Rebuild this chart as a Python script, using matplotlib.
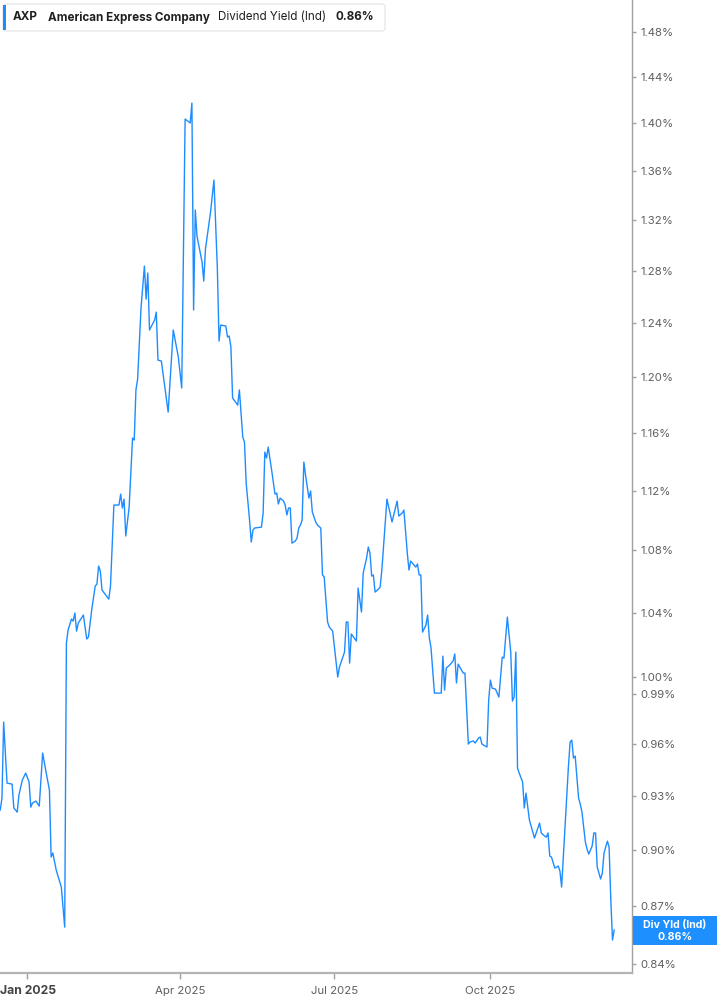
import pandas as pd
import matplotlib
matplotlib.use("Agg")
import matplotlib.pyplot as plt
import matplotlib.dates as mdates
import matplotlib.transforms as mtransforms
from matplotlib.patches import FancyBboxPatch, Rectangle
from matplotlib.ticker import FixedLocator, FixedFormatter, NullLocator

plt.rcParams["font.family"] = ["Inter", "DejaVu Sans"]

# --- data ---
ticker_sym = "AXP"
company = "American Express Company"
metric = "Dividend Yield (Ind)"
tag_title = "Div Yld (Ind)"

dates = [
    "2024-12-16", "2024-12-17", "2024-12-18", "2024-12-20", "2024-12-23", "2024-12-24", "2024-12-26", "2024-12-27", "2024-12-29", "2024-12-31",
    "2025-01-02", "2025-01-03", "2025-01-04", "2025-01-06", "2025-01-08", "2025-01-10", "2025-01-12", "2025-01-14", "2025-01-15", "2025-01-16",
    "2025-01-18", "2025-01-21", "2025-01-23", "2025-01-24", "2025-01-25", "2025-01-27", "2025-01-28", "2025-01-29", "2025-01-30", "2025-01-31",
    "2025-02-03", "2025-02-05", "2025-02-06", "2025-02-08", "2025-02-10", "2025-02-11", "2025-02-12", "2025-02-13", "2025-02-14", "2025-02-18",
    "2025-02-19", "2025-02-21", "2025-02-24", "2025-02-25", "2025-02-26", "2025-02-27", "2025-02-28", "2025-03-02", "2025-03-04", "2025-03-05",
    "2025-03-06", "2025-03-07", "2025-03-09", "2025-03-11", "2025-03-12", "2025-03-13", "2025-03-14", "2025-03-17", "2025-03-18", "2025-03-19",
    "2025-03-21", "2025-03-25", "2025-03-28", "2025-03-31", "2025-04-02", "2025-04-04", "2025-04-07", "2025-04-08", "2025-04-09", "2025-04-10",
    "2025-04-11", "2025-04-14", "2025-04-15", "2025-04-16", "2025-04-19", "2025-04-21", "2025-04-23", "2025-04-24", "2025-04-25", "2025-04-28",
    "2025-04-29", "2025-04-30", "2025-05-01", "2025-05-02", "2025-05-05", "2025-05-06", "2025-05-08", "2025-05-09", "2025-05-10", "2025-05-12",
    "2025-05-13", "2025-05-14", "2025-05-15", "2025-05-19", "2025-05-20", "2025-05-21", "2025-05-22", "2025-05-23", "2025-05-25", "2025-05-27",
    "2025-05-28", "2025-05-29", "2025-05-30", "2025-06-01", "2025-06-02", "2025-06-03", "2025-06-04", "2025-06-05", "2025-06-06", "2025-06-08",
    "2025-06-09", "2025-06-10", "2025-06-11", "2025-06-12", "2025-06-13", "2025-06-14", "2025-06-16", "2025-06-17", "2025-06-18", "2025-06-20",
    "2025-06-21", "2025-06-23", "2025-06-24", "2025-06-25", "2025-06-27", "2025-06-28", "2025-06-30", "2025-07-03", "2025-07-04", "2025-07-07",
    "2025-07-08", "2025-07-09", "2025-07-10", "2025-07-11", "2025-07-14", "2025-07-15", "2025-07-17", "2025-07-18", "2025-07-20", "2025-07-21",
    "2025-07-22", "2025-07-23", "2025-07-24", "2025-07-25", "2025-07-27", "2025-07-28", "2025-07-29", "2025-08-01", "2025-08-04", "2025-08-07",
    "2025-08-08", "2025-08-10", "2025-08-11", "2025-08-13", "2025-08-14", "2025-08-15", "2025-08-18", "2025-08-19", "2025-08-20", "2025-08-21",
    "2025-08-22", "2025-08-24", "2025-08-25", "2025-08-26", "2025-08-27", "2025-08-29", "2025-08-31", "2025-09-02", "2025-09-03", "2025-09-04",
    "2025-09-05", "2025-09-07", "2025-09-09", "2025-09-10", "2025-09-11", "2025-09-12", "2025-09-14", "2025-09-15", "2025-09-16", "2025-09-18",
    "2025-09-19", "2025-09-21", "2025-09-22", "2025-09-24", "2025-09-25", "2025-09-26", "2025-09-28", "2025-09-29", "2025-09-30", "2025-10-01",
    "2025-10-02", "2025-10-04", "2025-10-06", "2025-10-08", "2025-10-09", "2025-10-11", "2025-10-13", "2025-10-14", "2025-10-15", "2025-10-16",
    "2025-10-17", "2025-10-18", "2025-10-20", "2025-10-21", "2025-10-22", "2025-10-24", "2025-10-27", "2025-10-28", "2025-10-30", "2025-10-31",
    "2025-11-02", "2025-11-03", "2025-11-04", "2025-11-05", "2025-11-06", "2025-11-08", "2025-11-09", "2025-11-10", "2025-11-11", "2025-11-12",
    "2025-11-14", "2025-11-15", "2025-11-16", "2025-11-17", "2025-11-18", "2025-11-19", "2025-11-20", "2025-11-22", "2025-11-23", "2025-11-24",
    "2025-11-26", "2025-11-27", "2025-11-28", "2025-11-30", "2025-12-01", "2025-12-02", "2025-12-03", "2025-12-05", "2025-12-06", "2025-12-07",
    "2025-12-09", "2025-12-10", "2025-12-11", "2025-12-12", "2025-12-13",
]

# dividend yield, in percent
yield_pct = [
    0.9224, 0.9291, 0.9730, 0.9376, 0.9370, 0.9235, 0.9212, 0.9308, 0.9393, 0.9433,
    0.9382, 0.9240, 0.9263, 0.9274, 0.9246, 0.9549, 0.9439, 0.9336, 0.8964, 0.8986,
    0.8893, 0.8802, 0.8590, 1.0209, 1.0290, 1.0359, 1.0346, 1.0397, 1.0283, 1.0334,
    1.0384, 1.0234, 1.0246, 1.0422, 1.0569, 1.0581, 1.0698, 1.0665, 1.0543, 1.0485,
    1.0569, 1.1102, 1.1102, 1.1176, 1.1082, 1.1142, 1.0895, 1.1088, 1.1563, 1.1549,
    1.1906, 1.1985, 1.2514, 1.2837, 1.2582, 1.2783, 1.2348, 1.2423, 1.2483, 1.2124,
    1.2117, 1.1747, 1.2348, 1.2147, 1.1920, 1.4037, 1.4003, 1.4174, 1.2499, 1.3282,
    1.3073, 1.2868, 1.2721, 1.2971, 1.3266, 1.3526, 1.2822, 1.2265, 1.2385, 1.2378,
    1.2295, 1.2303, 1.2221, 1.1848, 1.1797, 1.1906, 1.1570, 1.1535, 1.1251, 1.1001,
    1.0855, 1.0934, 1.0948, 1.0954, 1.1048, 1.1465, 1.1424, 1.1500, 1.1341, 1.1176,
    1.1183, 1.1109, 1.1149, 1.1129, 1.1102, 1.1035, 1.1082, 1.1082, 1.0848, 1.0862,
    1.0881, 1.0948, 1.0968, 1.1001, 1.1396, 1.1306, 1.1149, 1.1197, 1.1055, 1.0988,
    1.0968, 1.0948, 1.0640, 1.0627, 1.0340, 1.0309, 1.0283, 1.0000, 1.0061, 1.0153,
    1.0340, 1.0340, 1.0085, 1.0265, 1.0221, 1.0556, 1.0403, 1.0652, 1.0750, 1.0822,
    1.0783, 1.0633, 1.0640, 1.0530, 1.0549, 1.0562, 1.0672, 1.1142, 1.0988, 1.1129,
    1.1028, 1.1048, 1.1068, 1.0783, 1.0672, 1.0730, 1.0691, 1.0711, 1.0640, 1.0640,
    1.0277, 1.0321, 1.0384, 1.0240, 1.0178, 0.9903, 0.9903, 0.9903, 1.0128, 0.9921,
    1.0055, 1.0073, 1.0098, 1.0141, 0.9964, 1.0079, 1.0043, 1.0024, 1.0024, 0.9601,
    0.9613, 0.9619, 0.9607, 0.9636, 0.9642, 0.9601, 0.9589, 0.9584, 0.9861, 0.9982,
    0.9933, 0.9927, 0.9879, 1.0122, 1.0116, 1.0371, 1.0153, 0.9855, 0.9879, 1.0153,
    0.9462, 0.9433, 0.9382, 0.9235, 0.9319, 0.9168, 0.9068, 0.9096, 0.9151, 0.9096,
    0.9079, 0.9073, 0.9096, 0.8969, 0.8964, 0.8904, 0.8909, 0.8915, 0.8888, 0.8802,
    0.9129, 0.9297, 0.9468, 0.9613, 0.9624, 0.9520, 0.9531, 0.9291, 0.9257, 0.9212,
    0.9046, 0.9007, 0.8980, 0.9024, 0.9096, 0.9096, 0.8909, 0.8845, 0.8877, 0.8986,
    0.9051, 0.9018, 0.8733, 0.8523, 0.8575,
]

ytick_values = [0.84, 0.87, 0.90, 0.93, 0.96, 0.99, 1.00, 1.04, 1.08, 1.12,
                1.16, 1.20, 1.24, 1.28, 1.32, 1.36, 1.40, 1.44, 1.48]
xtick_dates = ["2025-01-01", "2025-04-01", "2025-07-01", "2025-10-01"]
xtick_labels = ["Jan 2025", "Apr 2025", "Jul 2025", "Oct 2025"]

# --- styles ---
W, H = 717, 1005
line_color = "#1e8cff"
tag_color = "#1e8fff"
axis_gray = "#a0a0a0"
label_gray = "#5f5f5f"
text_dark = "#1f1f1f"

fig = plt.figure(figsize=(W / 100, H / 100), dpi=100)
# pixel coords measured from the top-left corner
px = mtransforms.Affine2D().scale(1 / W, -1 / H).translate(0, 1) + fig.transFigure

ax = fig.add_axes([0, 32 / H, 632 / W, 973 / H])
ax.plot(pd.to_datetime(dates), yield_pct, color=line_color, lw=1.0, solid_joinstyle="round")

ax.set_yscale("log")
ax.set_ylim(0.8354, 1.509)
jan1 = mdates.date2num(pd.Timestamp("2025-01-01"))
ax.set_xlim(jan1 - 16.15, jan1 + 356.5)

# y axis on the right, fixed percent ticks
ax.yaxis.tick_right()
ax.yaxis.set_major_locator(FixedLocator(ytick_values))
ax.yaxis.set_major_formatter(FixedFormatter([f"{v:.2f}%" for v in ytick_values]))
ax.yaxis.set_minor_locator(NullLocator())
ax.tick_params(axis="y", which="major", length=3, width=1, color=axis_gray,
               labelsize=8.2, labelcolor=label_gray, pad=3)

# first label (the year) is drawn by hand, flush with the left edge like the original
ax.set_xticks([mdates.date2num(pd.Timestamp(d)) for d in xtick_dates])
ax.set_xticklabels([""] + xtick_labels[1:])
ax.tick_params(axis="x", length=4, width=1, color=axis_gray,
               labelsize=8.2, labelcolor=label_gray, pad=5)
fig.text(0, 991, xtick_labels[0], transform=px, fontsize=8.8, fontweight="bold",
         color="#444444", ha="left", va="center")

for side in ["left", "top"]:
    ax.spines[side].set_visible(False)
ax.spines["right"].set_color(axis_gray)
ax.spines["right"].set_linewidth(1.0)
ax.spines["bottom"].set_color("#b4b4b4")
ax.spines["bottom"].set_linewidth(1.6)

# --- header box ---
fig.add_artist(FancyBboxPatch((3, 4), 382, 27, boxstyle="round,pad=0,rounding_size=3",
                              transform=px, facecolor="white", edgecolor="#e2e2e2", lw=0.8))
fig.add_artist(Rectangle((3, 5), 3, 25, transform=px, facecolor=line_color, edgecolor="none"))
hdr_y = 17.5
hdr_size = 8.4
fig.text(13, hdr_y, ticker_sym, transform=px, fontsize=hdr_size, fontweight="bold", color=text_dark, va="center")
fig.text(48, hdr_y, company, transform=px, fontsize=hdr_size, fontweight="bold", color=text_dark, va="center")
fig.text(218, hdr_y, metric, transform=px, fontsize=hdr_size, color=text_dark, va="center")
fig.text(335, hdr_y, f"{yield_pct[-1]:.2f}%", transform=px, fontsize=hdr_size, fontweight="bold",
         color=text_dark, va="center")

# --- last value tag on the right axis ---
fig.add_artist(Rectangle((633, 916), 84, 29, transform=px, facecolor=tag_color, edgecolor="none"))
fig.text(675, 925, tag_title, transform=px, fontsize=7.6, fontweight="bold", color="white",
         ha="center", va="center")
fig.text(675, 937, f"{yield_pct[-1]:.2f}%", transform=px, fontsize=7.6, fontweight="bold",
         color="white", ha="center", va="center")

fig.savefig("out.png", dpi=100)
